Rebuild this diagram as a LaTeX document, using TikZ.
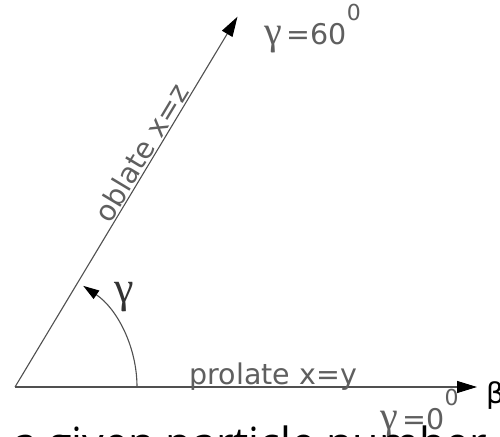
\documentclass[tikz,border=0pt]{standalone}
\usepackage{fontspec}
\setmainfont{DejaVu Sans}
\newfontfamily\bigfont{Open Sans}
\newfontfamily\serifg{Liberation Serif}
\usetikzlibrary{arrows.meta,calc}
\definecolor{linegray}{RGB}{80,80,80}
\definecolor{txtgray}{RGB}{95,95,95}
\newcommand{\supzero}{\raisebox{24pt}{\fontsize{22}{22}\selectfont 0}}
\newcommand{\gam}{{\serifg\fontsize{40}{40}\selectfont γ}}
\begin{document}
\begin{tikzpicture}[x=1pt,y=1pt,
  axisline/.style={draw=linegray,line width=1.1pt,-{Triangle[length=20pt,width=12pt,color=black]}},
  arcline/.style={draw=linegray,line width=1.1pt,-{Triangle[length=16pt,width=10pt,color=black]}},
  lbl/.style={inner sep=0pt,text=txtgray,font=\fontsize{28.5}{30}\selectfont},
  biglbl/.style={inner sep=0pt,text=black,font=\bigfont\fontsize{43}{44}\selectfont},
  anglelbl/.style={inner sep=0pt,text=black!80,font=\serifg\fontsize{44}{46}\selectfont}]
\clip (0,0) rectangle (500,436);
\fill[white] (0,0) rectangle (500,436);
\coordinate (O) at (15,49);
\coordinate (X) at (477,49);
\coordinate (Z) at ($(O)+(59:432)$);
\coordinate (A0) at ($(O)+(0:122)$);
\draw[axisline] (O) -- (X);
\draw[axisline] (O) -- (Z);
\draw[arcline] (A0) arc[start angle=0,end angle=56,radius=122];
\node[lbl,anchor=base west] (prolate) at (189.5,51) {prolate x=y};
\node[lbl,anchor=base,rotate=59] (oblate) at ($(O)+(59:266)+(149:2)$) {oblate x=z};
\node[lbl,anchor=base west] (g60) at (264,391) {\gam\,=60\supzero};
\node[lbl,anchor=base west] (g0) at (380,7) {\gam\,=0\supzero};
\node[lbl,text=black,anchor=base west] (beta) at (486,33) {β};
\node[anglelbl,anchor=base west] (gamma) at (114,133) {γ};
\node[biglbl,anchor=base west] (caption) at (13,-22) {a given particle number};
\end{tikzpicture}
\end{document}
